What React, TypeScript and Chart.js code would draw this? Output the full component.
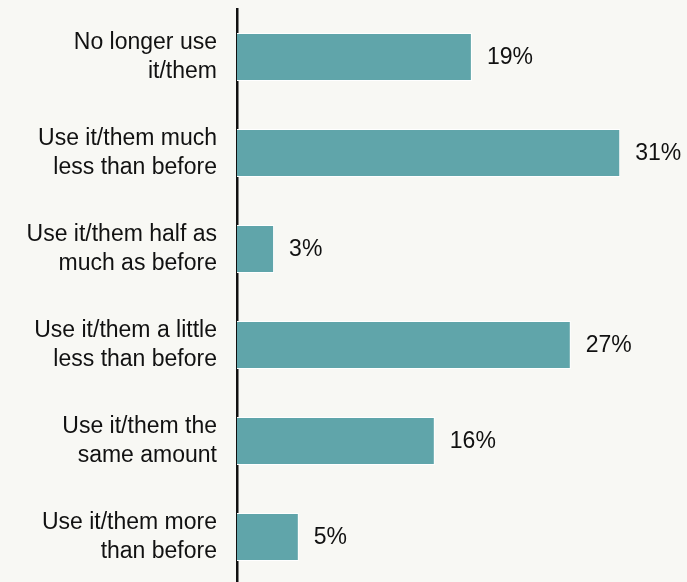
import React, { useEffect, useRef } from "react";
import { Chart, registerables } from "chart.js";

Chart.register(...registerables);

const categories: string[][] = [
  ["No longer use", "it/them"],
  ["Use it/them much", "less than before"],
  ["Use it/them half as", "much as before"],
  ["Use it/them a little", "less than before"],
  ["Use it/them the", "same amount"],
  ["Use it/them more", "than before"],
];
const values: number[] = [19, 31, 3, 27, 16, 5];
const valueLabels: string[] = ["19%", "31%", "3%", "27%", "16%", "5%"];

const FONT = "'Liberation Sans', Arial, sans-serif";
const TEXT = "#111111";
const BG = "#f8f8f4";

export default function App() {
  const ref = useRef<HTMLCanvasElement>(null);
  useEffect(() => {
    document.body.style.margin = "0";
    document.body.style.background = BG;
    const labelPlugin = {
      id: "valueLabels",
      afterDatasetsDraw(chart: any) {
        const ctx = chart.ctx;
        const meta = chart.getDatasetMeta(0);
        ctx.save();
        ctx.font = `23px ${FONT}`;
        ctx.fillStyle = TEXT;
        ctx.textAlign = "left";
        ctx.textBaseline = "middle";
        meta.data.forEach((bar: any, i: number) => {
          ctx.fillText(valueLabels[i], bar.x + 15, bar.y + 1);
        });
        ctx.restore();
      },
    };
    const chart = new Chart(ref.current!, {
      type: "bar",
      data: {
        labels: categories,
        datasets: [
          {
            data: values,
            backgroundColor: "#60a5aa",
            borderColor: "#ffffff",
            borderWidth: 1,
            categoryPercentage: 1,
            barPercentage: 0.5,
          },
        ],
      },
      options: {
        indexAxis: "y",
        responsive: false,
        animation: false,
        layout: { padding: { top: 9, left: 0, right: 0, bottom: 0 } },
        plugins: { legend: { display: false }, tooltip: { enabled: false } },
        scales: {
          x: { display: false, min: 0, max: 36.4 },
          y: {
            afterFit: (s: any) => {
              s.width = 237;
              s.paddingTop = 0;
              s.paddingBottom = 0;
            },
            grid: { display: false, drawTicks: false },
            border: { display: true, color: TEXT, width: 2.5 },
            ticks: {
              padding: 20,
              color: TEXT,
              font: { family: FONT, size: 23, lineHeight: 1.24 },
            },
          },
        },
      },
      plugins: [labelPlugin],
    });
    return () => chart.destroy();
  }, []);
  return (
    <div style={{ width: 687, height: 582, overflow: "hidden", background: BG }}>
      <canvas ref={ref} width={687} height={585} style={{ display: "block" }} />
    </div>
  );
}
